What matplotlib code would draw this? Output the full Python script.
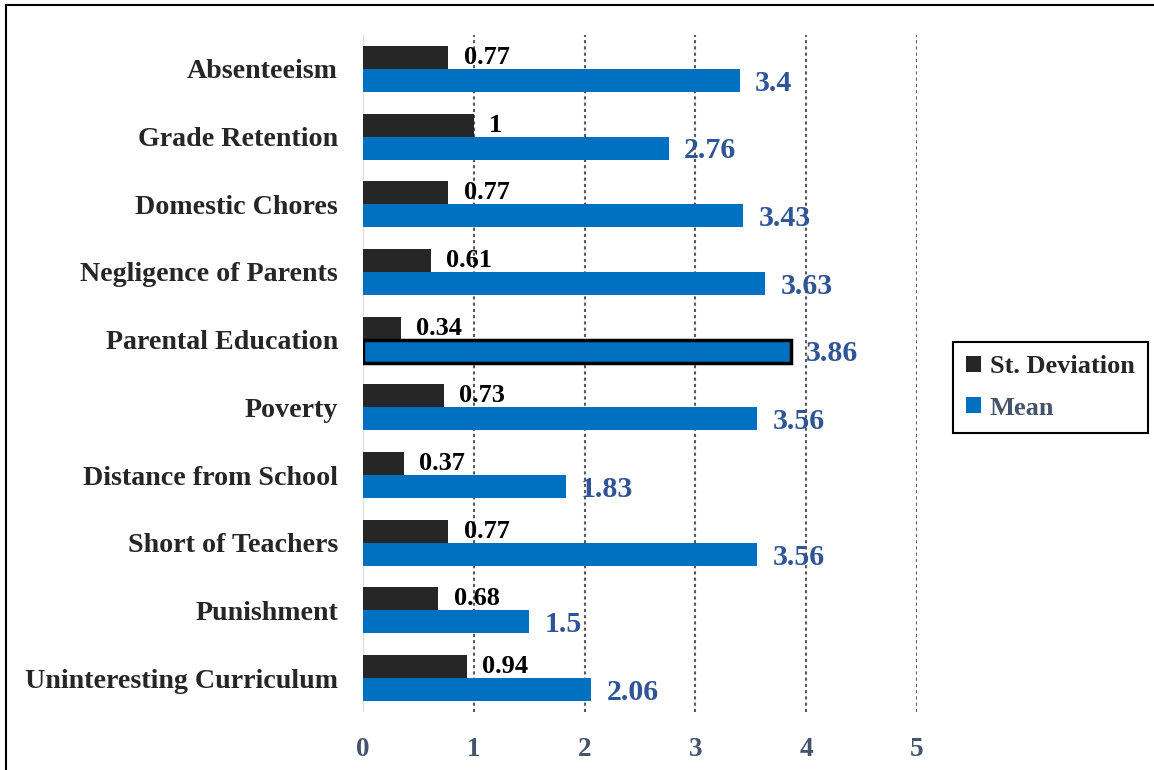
import matplotlib.pyplot as plt
from matplotlib.lines import Line2D
from matplotlib.patches import Patch

plt.rcParams['font.family'] = ['Liberation Serif', 'DejaVu Serif']
plt.rcParams['font.weight'] = 'bold'

categories = ['Absenteeism', 'Grade Retention', 'Domestic Chores', 'Negligence of Parents',
              'Parental Education', 'Poverty', 'Distance from School', 'Short of Teachers',
              'Punishment', 'Uninteresting Curriculum']
std_dev = [0.77, 1, 0.77, 0.61, 0.34, 0.73, 0.37, 0.77, 0.68, 0.94]
means = [3.4, 2.76, 3.43, 3.63, 3.86, 3.56, 1.83, 3.56, 1.5, 2.06]
highlighted = 'Parental Education'

sd_color = '#262626'
mean_color = '#0070C0'
mean_label_color = '#2F5597'
axis_text_color = '#44546A'

fig = plt.figure(figsize=(11.54, 7.7), dpi=100)
ax = fig.add_axes([363 / 1154, 1 - 712 / 770, (917 - 363) / 1154, (712 - 35) / 770])

h = 0.34
ypos = list(range(len(categories)))
sd_bars = ax.barh([y - h / 2 for y in ypos], std_dev, height=h, color=sd_color, zorder=3)
mean_bars = ax.barh([y + h / 2 for y in ypos], means, height=h, color=mean_color, zorder=3)

for i, c in enumerate(categories):
    if c == highlighted:
        mean_bars[i].set_edgecolor('black')
        mean_bars[i].set_linewidth(2.5)

for y, v in zip(ypos, std_dev):
    ax.annotate('{:g}'.format(v), (v, y - h / 2), xytext=(11, 0), textcoords='offset points',
                ha='left', va='center', fontsize=19, fontweight='bold', color='black', zorder=4)
for y, v in zip(ypos, means):
    ax.annotate('{:g}'.format(v), (v, y + h / 2), xytext=(11, -2), textcoords='offset points',
                ha='left', va='center', fontsize=21.5, fontweight='bold', color=mean_label_color, zorder=4)

ax.set_xlim(0, 5)
ax.set_ylim(len(categories) - 0.5, -0.5)
ax.set_yticks(ypos)
ax.set_yticklabels(categories, fontsize=20.2, fontweight='bold', color=sd_color)
ax.set_xticks([0, 1, 2, 3, 4, 5])
ax.set_xticklabels(['0', '1', '2', '3', '4', '5'], fontsize=19.5, fontweight='bold', color=axis_text_color)
ax.tick_params(axis='y', length=0, pad=18)
ax.tick_params(axis='x', length=0, pad=18)

for x in [1, 2, 3, 4, 5]:
    ax.axvline(x, color='#595959', linestyle=(0, (1.5, 1.5)), linewidth=1.5, zorder=1)
ax.axvline(0, color='#D9D9D9', linewidth=1.5, zorder=2)

for s in ax.spines.values():
    s.set_visible(False)

handles = [Patch(facecolor=sd_color), Patch(facecolor=mean_color)]
leg = fig.legend(handles, ['St. Deviation', 'Mean'], loc='upper left',
                 bbox_to_anchor=(953 / 1154, 1 - 342 / 770), borderaxespad=0, fontsize=19,
                 fancybox=False, edgecolor='black', handlelength=0.55, handleheight=0.55,
                 handletextpad=0.35, borderpad=0.5, labelspacing=0.7, framealpha=1)
leg.get_frame().set_linewidth(1.5)
leg.get_texts()[0].set_color(sd_color)
leg.get_texts()[1].set_color(axis_text_color)

# outer chart border
fig.add_artist(Line2D([6 / 1154, 1], [1 - 5 / 770, 1 - 5 / 770], color='black', linewidth=1.5))
fig.add_artist(Line2D([6 / 1154, 6 / 1154], [0, 1 - 5 / 770], color='black', linewidth=1.5))

fig.savefig('out.png', dpi=100)
